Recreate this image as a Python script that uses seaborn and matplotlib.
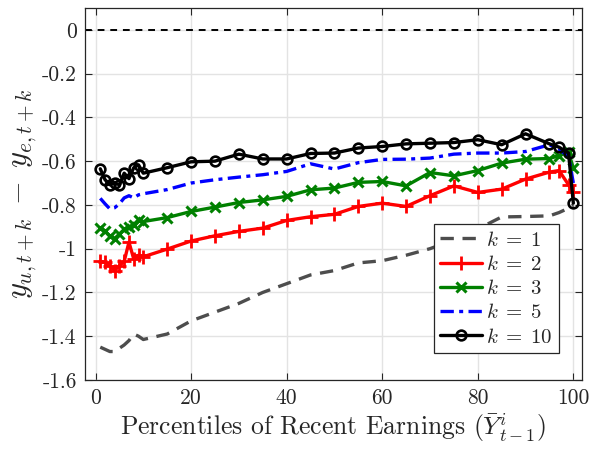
import numpy as np
import pandas as pd
import matplotlib
matplotlib.use("Agg")
import matplotlib.pyplot as plt
import seaborn as sns

# Percentiles of recent earnings
percentiles = [1, 2, 3, 4, 5, 6, 7, 8, 9, 10,
               15, 20, 25, 30, 35, 40, 45, 50, 55, 60,
               65, 70, 75, 80, 85, 90, 95, 97, 99, 100]

# Earnings gap y_u - y_e at horizon k
gap_k1 = [-1.45, -1.46, -1.47, -1.47, -1.455, -1.44, -1.42, -1.39, -1.40, -1.415,
          -1.39, -1.33, -1.29, -1.25, -1.20, -1.16, -1.12, -1.10, -1.065, -1.055,
          -1.03, -1.00, -0.96, -0.91, -0.855, -0.853, -0.85, -0.835, -0.815, -0.80]
gap_k2 = [-1.058, -1.063, -1.078, -1.10, -1.078, -1.058, -0.97, -1.047, -1.03, -1.037,
          -1.002, -0.965, -0.941, -0.921, -0.906, -0.871, -0.854, -0.843, -0.807, -0.792,
          -0.807, -0.758, -0.713, -0.743, -0.728, -0.682, -0.65, -0.643, -0.708, -0.739]
gap_k3 = [-0.906, -0.921, -0.944, -0.954, -0.933, -0.912, -0.902, -0.89, -0.868, -0.876,
          -0.858, -0.83, -0.81, -0.789, -0.777, -0.761, -0.731, -0.723, -0.697, -0.693,
          -0.713, -0.652, -0.667, -0.643, -0.609, -0.591, -0.588, -0.575, -0.56, -0.632]
gap_k5 = [-0.77, -0.795, -0.818, -0.813, -0.795, -0.768, -0.758, -0.768, -0.754, -0.749,
          -0.73, -0.70, -0.685, -0.673, -0.662, -0.647, -0.612, -0.636, -0.607, -0.592,
          -0.591, -0.586, -0.568, -0.563, -0.563, -0.556, -0.525, -0.545, -0.58, -0.70]
gap_k10 = [-0.635, -0.685, -0.708, -0.70, -0.708, -0.655, -0.68, -0.63, -0.617, -0.655,
           -0.63, -0.603, -0.60, -0.568, -0.59, -0.59, -0.565, -0.563, -0.54, -0.533,
           -0.521, -0.518, -0.515, -0.502, -0.525, -0.475, -0.521, -0.536, -0.563, -0.792]

series_labels = [r"$k\;=\;1$", r"$k\;=\;2$", r"$k\;=\;3$", r"$k\;=\;5$", r"$k\;=\;10$"]

x_ticks = [0, 20, 40, 60, 80, 100]
x_tick_labels = ["0", "20", "40", "60", "80", "100"]
y_ticks = [0, -0.2, -0.4, -0.6, -0.8, -1.0, -1.2, -1.4, -1.6]
y_tick_labels = ["0", "-0.2", "-0.4", "-0.6", "-0.8", "-1", "-1.2", "-1.4", "-1.6"]

sns.set_style("ticks")
plt.rcParams["font.family"] = ["cmr10", "DejaVu Serif"]
plt.rcParams["mathtext.fontset"] = "cm"
plt.rcParams["axes.unicode_minus"] = False
plt.rcParams["axes.formatter.use_mathtext"] = True

fig = plt.figure(figsize=(5.89, 4.5), dpi=100)
ax = fig.add_axes([0.1443, 0.1556, 0.8437, 0.8267])

colors = ["#4d4d4d", "#ff0000", "#008000", "#0000ff", "#000000"]
line_styles = [
    dict(linestyle=(0, (4, 2.6)), marker="None"),
    dict(linestyle="-", marker="+", markersize=10.5, markeredgewidth=2.0),
    dict(linestyle="-", marker="x", markersize=7, markeredgewidth=2.2),
    dict(linestyle=(0, (4, 1.6, 1.2, 1.6)), marker="None"),
    dict(linestyle="-", marker="o", markersize=7, markeredgewidth=1.9,
         markerfacecolor="none"),
]

all_series = [gap_k1, gap_k2, gap_k3, gap_k5, gap_k10]
for vals, lab, col, st in zip(all_series, series_labels, colors, line_styles):
    df = pd.DataFrame({"pct": percentiles, "gap": vals})
    n_before = len(ax.lines)
    sns.lineplot(data=df, x="pct", y="gap", ax=ax, color=col,
                 estimator=None, sort=True, linewidth=2.4, legend=False)
    ln = ax.lines[n_before]
    ln.set_label(lab)
    ln.set_linestyle(st["linestyle"])
    ln.set_marker(st["marker"])
    ln.set_markeredgecolor(col)
    if "markersize" in st:
        ln.set_markersize(st["markersize"])
        ln.set_markeredgewidth(st["markeredgewidth"])
    if "markerfacecolor" in st:
        ln.set_markerfacecolor(st["markerfacecolor"])

# Zero reference line
ax.axhline(0, color="black", linestyle=(0, (3.5, 3)), linewidth=1.4, zorder=1)

ax.set_xlim(-2.2, 101.8)
ax.set_ylim(-1.6, 0.1)
ax.set_xticks(x_ticks)
ax.set_xticklabels(x_tick_labels)
ax.set_yticks(y_ticks)
ax.set_yticklabels(y_tick_labels)
ax.tick_params(direction="in", length=5, width=0.8, top=True, right=True,
               labelsize=15.5, colors="#262626", pad=6)

ax.grid(True, color="#e3e3e3", linewidth=1.0)
ax.set_axisbelow(True)
for sp in ax.spines.values():
    sp.set_visible(True)
    sp.set_color("#262626")
    sp.set_linewidth(0.9)

ax.set_xlabel(r"Percentiles of Recent Earnings ($\bar{Y}^{i}_{t-1}$)",
              fontsize=18.5, color="#262626", labelpad=2)
ax.set_ylabel(r"$y_{u,t+k}\;-\;y_{e,t+k}$", fontsize=22, color="#262626",
              labelpad=2)

handles = ax.lines[:5]
leg = ax.legend(handles=handles, labels=series_labels,
                loc="lower right", bbox_to_anchor=(0.954, 0.073),
                borderaxespad=0, fontsize=15, frameon=True, fancybox=False,
                framealpha=1, edgecolor="#262626", handlelength=2.0,
                handletextpad=0.2, labelspacing=0.25, borderpad=0.3)
leg.get_frame().set_linewidth(0.9)

fig.savefig("out.png", dpi=100)
